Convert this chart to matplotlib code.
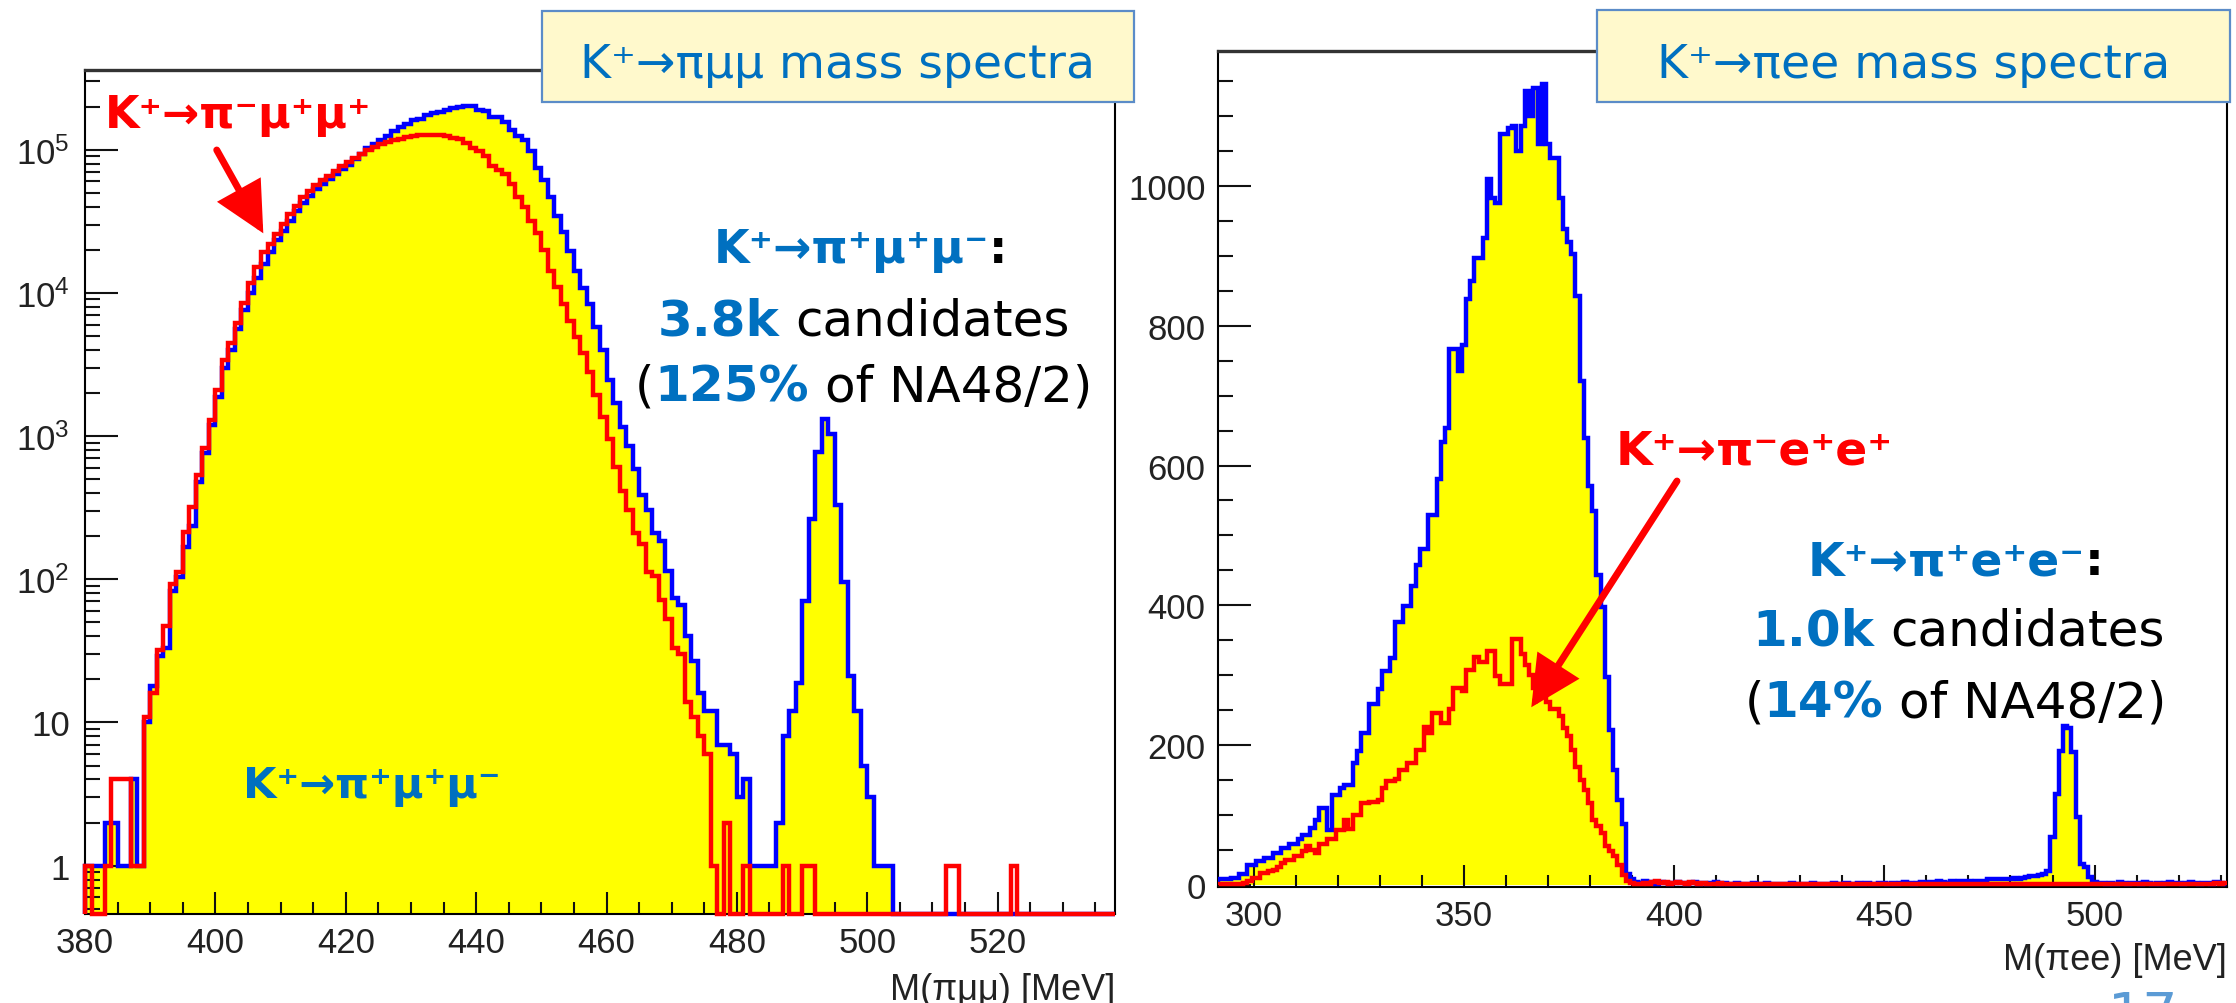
import numpy as np
import matplotlib
matplotlib.use("Agg")
import matplotlib.pyplot as plt
from matplotlib.patches import Rectangle
from matplotlib.ticker import MultipleLocator, FixedLocator, FixedFormatter, LogLocator, NullFormatter
from matplotlib.transforms import offset_copy

# ---- data: K -> pi mu mu (1 MeV bins, left edges 380..537) ----
mumu_edges = np.arange(380, 539)
mumu_blue = [
    1, 1, 1, 2, 2, 1, 1, 4, 1, 10,
    18, 29, 33, 83, 103, 167, 236, 475, 760, 1200,
    1860, 3000, 3980, 5600, 7600, 10000, 12800, 15900, 19200, 23300,
    27000, 31800, 37300, 42600, 47700, 53500, 57900, 62700, 67900, 73600,
    77600, 86000, 93800, 103000, 110000, 116000, 125000, 136000, 143000, 151000,
    160000, 165000, 174000, 180000, 184000, 190000, 196000, 200000, 203000, 203000,
    190000, 187000, 170000, 168000, 155000, 138000, 125000, 116000, 98000, 75000,
    61000, 46500, 34600, 26500, 19700, 14300, 10900, 8400, 5800, 3960,
    2450, 1690, 1150, 846, 590, 390, 304, 212, 185, 115,
    74, 66, 40, 27, 16, 12, 12, 7, 7, 6,
    3, 4, 1, 1, 1, 1, 2, 8, 12, 19,
    70, 264, 778, 1320, 1030, 330, 95, 21, 12, 5,
    3, 1, 1, 1, 0, 0, 0, 0, 0, 0,
    0, 0, 0, 0, 0, 0, 0, 0, 0, 0,
    0, 0, 0, 0, 0, 0, 0, 0, 0, 0,
    0, 0, 0, 0, 0, 0, 0, 0,
]
mumu_red = [
    1, 0, 0, 1, 4, 4, 4, 1, 1, 11,
    16, 32, 47, 93, 112, 213, 318, 533, 830, 1290,
    2090, 3380, 4460, 6200, 8500, 11700, 15100, 19200, 22000, 25800,
    30300, 35500, 40500, 46500, 51800, 56300, 61000, 66000, 71500, 77500,
    81800, 87600, 93800, 99000, 104000, 109000, 113000, 116000, 118000, 122000,
    125000, 126000, 127000, 127000, 126000, 124000, 121000, 118000, 112000, 102000,
    98000, 91000, 77000, 72000, 68000, 58000, 46500, 39600, 32000, 26000,
    20000, 14300, 11000, 8400, 6400, 4900, 3800, 2800, 1950, 1370,
    950, 607, 412, 304, 212, 175, 112, 106, 72, 53,
    33, 30, 14, 11, 8, 6, 1, 0, 2, 0,
    0, 1, 0, 0, 0, 0, 0, 1, 0, 0,
    1, 1, 0, 0, 0, 0, 0, 0, 0, 0,
    0, 0, 0, 0, 0, 0, 0, 0, 0, 0,
    0, 0, 1, 1, 0, 0, 0, 0, 0, 0,
    0, 0, 1, 0, 0, 0, 0, 0, 0, 0,
    0, 0, 0, 0, 0, 0, 0, 0,
]
mumu_xticks = [380, 400, 420, 440, 460, 480, 500, 520]
mumu_yticks = [1, 10, 100, 1000, 10000, 100000]
mumu_ylabels = ["1", "10", r"$\mathregular{10^{2}}$", r"$\mathregular{10^{3}}$",
                r"$\mathregular{10^{4}}$", r"$\mathregular{10^{5}}$"]

# ---- data: K -> pi e e (1 MeV bins, centres 292..531) ----
ee_edges = np.arange(291.5, 532.0, 1.0)
ee_blue = [
    8, 8, 8, 10, 10, 15, 15, 29, 29, 34,
    34, 38, 38, 46, 46, 53, 53, 58, 58, 65,
    72, 72, 81, 93, 110, 110, 79, 129, 129, 138,
    143, 143, 174, 191, 218, 218, 259, 259, 280, 306,
    306, 325, 376, 376, 399, 399, 428, 457, 481, 481,
    529, 529, 581, 633, 654, 766, 766, 735, 773, 838,
    864, 897, 897, 926, 1010, 983, 976, 1074, 1074, 1083,
    1086, 1050, 1086, 1136, 1100, 1140, 1060, 1146, 1060, 1040,
    1040, 983, 938, 920, 902, 843, 721, 640, 570, 535,
    443, 397, 297, 221, 164, 121, 87, 16, 9, 4,
    3, 5, 4, 3, 2, 4, 3, 2, 3, 4,
    3, 2, 3, 4, 2, 3, 2, 3, 4, 2,
    3, 2, 2, 3, 2, 1, 2, 3, 2, 2,
    3, 2, 2, 1, 2, 2, 3, 2, 1, 2,
    2, 3, 2, 2, 1, 2, 3, 2, 2, 3,
    2, 2, 3, 2, 3, 2, 2, 3, 3, 2,
    3, 2, 3, 4, 3, 2, 3, 4, 3, 4,
    4, 5, 4, 3, 5, 4, 5, 6, 5, 4,
    5, 6, 5, 8, 9, 8, 9, 8, 9, 10,
    9, 10, 11, 13, 13, 14, 16, 20, 69, 130,
    192, 228, 225, 190, 97, 30, 25, 12, 4, 3,
    3, 2, 3, 2, 4, 3, 2, 3, 3, 2,
    4, 3, 2, 3, 2, 3, 4, 3, 3, 2,
    3, 4, 3, 2, 3, 3, 2, 4, 3, 2,
]
ee_red = [
    1, 1, 1, 1, 2, 2, 3, 5, 10, 10,
    17, 17, 20, 22, 26, 31, 36, 36, 41, 41,
    48, 55, 50, 45, 58, 58, 65, 65, 79, 79,
    93, 80, 100, 100, 117, 117, 119, 119, 121, 138,
    148, 148, 152, 164, 164, 174, 174, 193, 193, 226,
    218, 246, 246, 232, 232, 251, 282, 282, 278, 307,
    307, 326, 319, 319, 335, 335, 299, 287, 287, 287,
    352, 352, 330, 314, 300, 281, 271, 271, 262, 251,
    251, 242, 225, 213, 193, 169, 150, 136, 117, 93,
    84, 74, 55, 48, 41, 29, 14, 5, 3, 2,
    2, 3, 2, 4, 5, 3, 4, 2, 3, 4,
    3, 2, 4, 3, 2, 3, 2, 1, 2, 3,
    2, 1, 2, 2, 1, 2, 2, 1, 2, 1,
    1, 2, 1, 1, 2, 1, 1, 2, 1, 1,
    2, 1, 1, 2, 1, 1, 2, 1, 1, 1,
    1, 2, 1, 1, 1, 2, 1, 1, 2, 1,
    1, 1, 2, 1, 1, 1, 2, 1, 1, 2,
    1, 1, 2, 1, 1, 2, 1, 1, 2, 1,
    1, 2, 1, 1, 2, 1, 2, 1, 1, 2,
    1, 1, 2, 1, 2, 1, 1, 2, 2, 1,
    2, 1, 2, 1, 2, 1, 1, 2, 1, 2,
    1, 2, 1, 1, 2, 1, 2, 1, 1, 2,
    1, 1, 2, 1, 2, 1, 1, 2, 1, 1,
    2, 1, 1, 2, 1, 2, 1, 3, 2, 3,
]
ee_xticks = [300, 350, 400, 450, 500]
ee_yticks = [0, 200, 400, 600, 800, 1000]

BLUE_TXT = "#0070C0"
RED = "#FF0000"
HIST_BLUE = "#0000FF"
FILL = "#FFFF00"

W, H = 2236, 1004
fig = plt.figure(figsize=(W / 100, H / 100), dpi=100)
fig.patch.set_facecolor("white")


def px_rect(l, t, r, b):
    return [l / W, 1 - b / H, (r - l) / W, (b - t) / H]


ax1 = fig.add_axes(px_rect(85, 71, 1115, 915))
ax2 = fig.add_axes(px_rect(1218, 52, 2227, 888))

# ---- left: log spectrum ----
floor = 0.46
b1 = np.maximum(np.array(mumu_blue, float), floor)
r1 = np.maximum(np.array(mumu_red, float), floor)
ax1.stairs(b1, mumu_edges, baseline=floor, fill=True, color=FILL, lw=0, zorder=1)
ax1.stairs(b1, mumu_edges, baseline=floor, color=HIST_BLUE, lw=3.2, zorder=3, clip_on=False)
ax1.stairs(r1, mumu_edges, baseline=floor, color=RED, lw=3.2, zorder=4, clip_on=False)
ax1.set_yscale("log")
ax1.set_xlim(380, 538)
ax1.set_ylim(floor, 3.6e5)
ax1.yaxis.set_major_locator(FixedLocator(mumu_yticks))
ax1.yaxis.set_major_formatter(FixedFormatter(mumu_ylabels))
ax1.yaxis.set_minor_locator(LogLocator(base=10, subs=np.arange(2, 10), numticks=20))
ax1.yaxis.set_minor_formatter(NullFormatter())
ax1.xaxis.set_major_locator(FixedLocator(mumu_xticks))
ax1.xaxis.set_minor_locator(MultipleLocator(5))

# ---- right: linear spectrum ----
b2 = np.array(ee_blue, float)
r2 = np.array(ee_red, float)
ax2.stairs(b2, ee_edges, baseline=0, fill=True, color=FILL, lw=0, zorder=1)
ax2.stairs(b2, ee_edges, baseline=0, color=HIST_BLUE, lw=3.2, zorder=3)
ax2.stairs(r2, ee_edges, baseline=0, color=RED, lw=3.2, zorder=4)
ax2.set_xlim(291.5, 531.5)
ax2.set_ylim(-3, 1193)
ax2.xaxis.set_major_locator(FixedLocator(ee_xticks))
ax2.xaxis.set_minor_locator(MultipleLocator(10))
ax2.yaxis.set_major_locator(FixedLocator(ee_yticks))
ax2.yaxis.set_minor_locator(MultipleLocator(50))

for ax, ypad in ((ax1, 11), (ax2, 9)):
    for s in ax.spines.values():
        s.set_linewidth(1.5)
        s.set_zorder(2)
    ax.spines["top"].set_linewidth(2.4)
    ax.spines["top"].set_color("#333333")
    ax.tick_params(which="both", direction="in", top=False, right=False, width=1.5,
                   colors="#111111", labelcolor="#222222")
    ax.tick_params(axis="y", which="major", length=24, pad=ypad)
    ax.tick_params(axis="y", which="minor", length=11)
    ax.tick_params(axis="x", which="major", length=16, pad=9)
    ax.tick_params(axis="x", which="minor", length=8.5)
    for lab in ax.get_xticklabels() + ax.get_yticklabels():
        lab.set_fontfamily("Liberation Sans")
        lab.set_fontsize(25)

ax1.text(1.0, -0.1007, "M(πμμ) [MeV]", transform=ax1.transAxes, ha="right", va="baseline",
         fontsize=26, family="Liberation Sans", color="#222222")
ax2.text(1.0, -0.098, "M(πee) [MeV]", transform=ax2.transAxes, ha="right", va="baseline",
         fontsize=26, family="Liberation Sans", color="#222222")

# ---- title boxes ----
for (l, t, r, b), label in (((542, 12, 1134, 103), "K⁺→πμμ mass spectra"),
                           ((1597, 11, 2230, 103), "K⁺→πee mass spectra")):
    fig.add_artist(Rectangle((l / W, 1 - b / H), (r - l) / W, (b - t) / H,
                             transform=fig.transFigure, facecolor="#FFF9CC",
                             edgecolor="#5B8CC8", lw=1.6, zorder=10))
    fig.text((l + r) / 2 / W, 1 - 78 / H, label, ha="center", va="baseline",
             fontsize=34, color=BLUE_TXT, family="DejaVu Sans", zorder=11)

renderer = fig.canvas.get_renderer()


def rich_line(ax, fx, fy, pieces, size):
    # pieces: (text, colour, weight); "" = one space
    dpi = fig.dpi
    widths, texts = [], []
    for s, c, w in pieces:
        if s == "":
            widths.append(0.318 * size * dpi / 72)
            texts.append(None)
            continue
        t = ax.text(fx, fy, s, transform=ax.transAxes, ha="left", va="baseline",
                    fontsize=size, color=c, fontweight=w, family="DejaVu Sans", zorder=6)
        texts.append(t)
        widths.append(t.get_window_extent(renderer).width)
    x = -sum(widths) / 2
    for t, w in zip(texts, widths):
        if t is not None:
            t.set_transform(offset_copy(ax.transAxes, fig=fig, x=x, y=0, units="dots"))
        x += w


arrow_style = dict(arrowstyle="-|>,head_length=1.0,head_width=0.5",
                   mutation_scale=28, lw=5, color=RED, shrinkA=0, shrinkB=0,
                   joinstyle="miter")

# ---- left annotations ----
ax1.text(0.019, 0.9325, "K⁺→π⁻μ⁺μ⁺", transform=ax1.transAxes, ha="left", va="baseline",
         fontsize=32, fontweight="bold", color=RED, family="DejaVu Sans", zorder=6)
ax1.annotate("", xy=(0.1731, 0.8065), xycoords="axes fraction",
             xytext=(0.1279, 0.9052), textcoords="axes fraction",
             arrowprops=arrow_style, zorder=6)
rich_line(ax1, 0.753, 0.7725, [("K⁺→π⁺μ⁺μ⁻", BLUE_TXT, "bold"), (":", "black", "bold")], 33)
rich_line(ax1, 0.756, 0.687, [("3.8k", BLUE_TXT, "bold"), ("", None, None),
                              ("candidates", "black", "normal")], 36)
rich_line(ax1, 0.756, 0.608, [("(", "black", "normal"), ("125%", BLUE_TXT, "bold"),
                              ("", None, None), ("of NA48/2)", "black", "normal")], 36)
ax1.text(0.153, 0.1386, "K⁺→π⁺μ⁺μ⁻", transform=ax1.transAxes, ha="left", va="baseline",
         fontsize=31, fontweight="bold", color=BLUE_TXT, family="DejaVu Sans", zorder=6)

# ---- right annotations ----
ax2.text(0.394, 0.506, "K⁺→π⁻e⁺e⁺", transform=ax2.transAxes, ha="left", va="baseline",
         fontsize=34, fontweight="bold", color=RED, family="DejaVu Sans", zorder=6)
ax2.annotate("", xy=(0.3105, 0.215), xycoords="axes fraction",
             xytext=(0.4549, 0.4856), textcoords="axes fraction",
             arrowprops=arrow_style, zorder=6)
rich_line(ax2, 0.731, 0.3744, [("K⁺→π⁺e⁺e⁻", BLUE_TXT, "bold"), (":", "black", "bold")], 34)
rich_line(ax2, 0.734, 0.2895, [("1.0k", BLUE_TXT, "bold"), ("", None, None),
                               ("candidates", "black", "normal")], 36)
rich_line(ax2, 0.731, 0.2045, [("(", "black", "normal"), ("14%", BLUE_TXT, "bold"),
                               ("", None, None), ("of NA48/2)", "black", "normal")], 36)

# slide-number fragment at the bottom edge
fig.text(2108 / W, 1 - 990 / H, "17", ha="left", va="top", fontsize=40,
         color="#5B9BD5", family="DejaVu Sans")

fig.savefig("out.png", dpi=100, facecolor="white")
